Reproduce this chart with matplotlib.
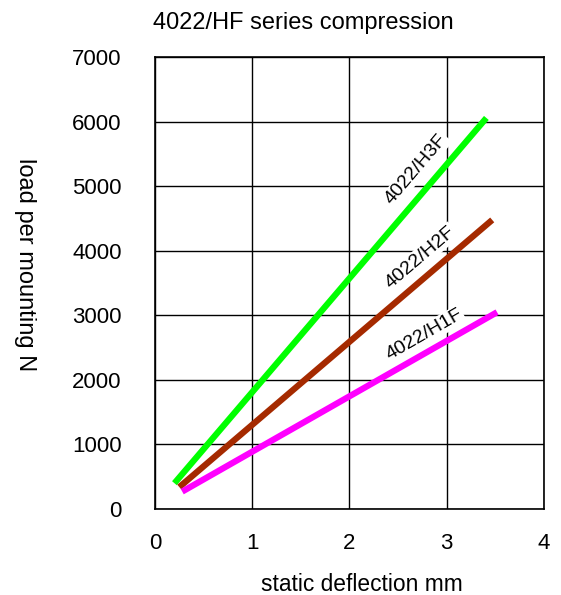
import matplotlib.pyplot as plt

plt.rcParams['font.family'] = ['Liberation Sans', 'DejaVu Sans']

# series endpoints (deflection mm, load N)
h3f_x = [0.2, 3.41]
h3f_y = [400, 6060]
h2f_x = [0.25, 3.47]
h2f_y = [340, 4480]
h1f_x = [0.28, 3.52]
h1f_y = [270, 3050]

x_ticks = [0, 1, 2, 3, 4]
y_ticks = [0, 1000, 2000, 3000, 4000, 5000, 6000, 7000]

fig = plt.figure(figsize=(5.61, 5.95), dpi=100)
ax = fig.add_axes([0.2763, 0.1445, 0.6929, 0.7592])

ax.plot(h3f_x, h3f_y, color='#00ff00', lw=4.5, solid_capstyle='butt', zorder=3)
ax.plot(h2f_x, h2f_y, color='#a52a00', lw=4.5, solid_capstyle='butt', zorder=3)
ax.plot(h1f_x, h1f_y, color='#ff00ff', lw=4.5, solid_capstyle='butt', zorder=3)

ax.set_xlim(0, 4)
ax.set_ylim(0, 7000)
ax.set_xticks(x_ticks)
ax.set_yticks(y_ticks)
ax.grid(True, color='black', lw=1.0)
ax.set_axisbelow(True)
for s in ax.spines.values():
    s.set_color('black')
    s.set_linewidth(1.2)
ax.tick_params(length=0, labelsize=16)
ax.tick_params(axis='y', pad=24)
ax.tick_params(axis='x', pad=17)

# 曲線ラベル
lab = dict(fontsize=14, ha='center', va='center', zorder=2.5,
           bbox=dict(facecolor='white', edgecolor='none', pad=1))
ax.text(2.69, 5265, '4022/H3F', rotation=49.5, **lab)
ax.text(2.73, 3895, '4022/H2F', rotation=40.5, **lab)
ax.text(2.77, 2700, '4022/H1F', rotation=30, **lab)

fig.text(153 / 561, 1 - 29 / 595, '4022/HF series compression',
         fontsize=17, ha='left', va='baseline')
fig.text(362 / 561, 1 - 591 / 595, 'static deflection mm',
         fontsize=16.4, ha='center', va='baseline')
ax.set_ylabel('load per mounting N', fontsize=17, rotation=-90,
              ha='center', va='center')
ax.yaxis.set_label_coords(-0.334, 0.542)

plt.savefig('out.png', dpi=100)
